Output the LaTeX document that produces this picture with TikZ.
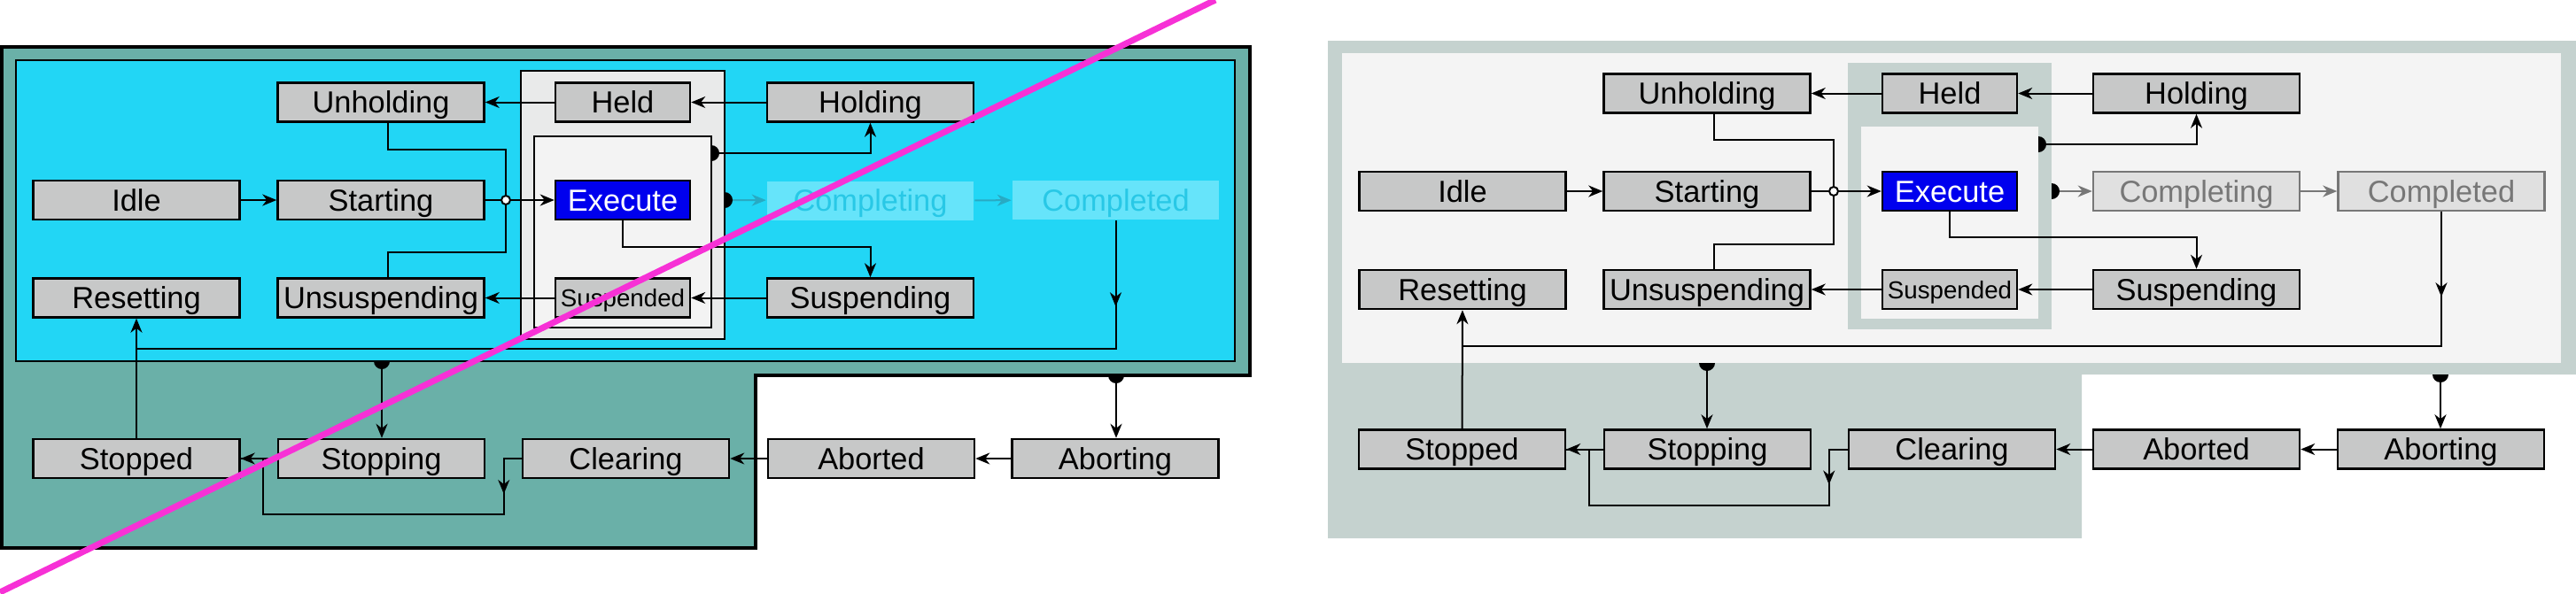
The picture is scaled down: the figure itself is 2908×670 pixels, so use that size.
\documentclass[tikz,border=0pt]{standalone}
\usepackage{fontspec}
\setmainfont{Liberation Sans}
\usetikzlibrary{arrows.meta}

\definecolor{tealbg}{RGB}{106,176,168}
\definecolor{cyanbg}{RGB}{34,214,245}
\definecolor{heldbg}{RGB}{233,234,234}
\definecolor{execbg}{RGB}{243,243,243}
\definecolor{boxgray}{RGB}{199,200,200}
\definecolor{execblue}{RGB}{0,0,238}
\definecolor{fadefill}{RGB}{102,228,250}
\definecolor{fadetext}{RGB}{40,200,230}
\definecolor{fadearrow}{RGB}{40,170,195}
\definecolor{crossout}{RGB}{247,49,214}
\definecolor{greybg}{RGB}{197,210,207}
\definecolor{lightbg}{RGB}{244,244,244}
\definecolor{offfill}{RGB}{224,224,224}
\definecolor{offline}{RGB}{119,119,119}

\tikzset{every picture/.style={line width=2pt}}
\tikzset{
  state/.style={draw, fill=boxgray, line width=2.5pt, minimum width=233pt, minimum height=44pt, inner sep=0pt, text height=30pt, text depth=6pt, font=\fontsize{34.4}{40}\selectfont},
  smallstate/.style={state, minimum width=152pt},
  smalltext/.style={text height=24pt, text depth=4pt, font=\fontsize{27.7}{32}\selectfont},
  tip/.style={-{Stealth[length=16pt,width=13pt,inset=5pt]}},
  junction/.style={circle, draw, fill=white, line width=2pt, minimum size=10pt, inner sep=0pt},
}

\begin{document}
\begin{tikzpicture}[x=1pt,y=1pt,yscale=-1,xscale=1]
		\useasboundingbox (0,0) rectangle (2908,670);
		
		%Left version: backgrounds
		\draw [fill=tealbg, line width=4pt] (2,53) -- (1411,53) -- (1411,424) -- (853,424) -- (853,619) -- (2,619) -- cycle ;
		\draw [fill=cyanbg, line width=2.5pt] (18,68) rectangle (1394,408) ;
		\draw [fill=heldbg, line width=2.5pt] (588,80) rectangle (818,383) ;
		\draw [fill=execbg, line width=2.5pt] (603,154) rectangle (803,370) ;
		
		%Left version: states
		\node [state] (lunholding) at (430,115.5) {Unholding};
		\node [smallstate] (lheld) at (703,115.5) {Held};
		\node [state] (lholding) at (982.5,115.5) {Holding};
		\node [state] (lidle) at (154,226) {Idle};
		\node [state] (lstarting) at (430,226) {Starting};
		\node [smallstate, fill=execblue, text=white] (lexecute) at (703,226) {Execute};
		\node [state, draw=none, fill=fadefill, text=fadetext] (lcompleting) at (982.5,226.5) {Completing};
		\node [state, draw=none, fill=fadefill, text=fadetext] (lcompleted) at (1259.5,226) {Completed};
		\node [state] (lresetting) at (154,336.5) {Resetting};
		\node [state] (lunsuspending) at (430,336.5) {Unsuspending};
		\node [smallstate, smalltext] (lsuspended) at (703,336.5) {Suspended};
		\node [state] (lsuspending) at (982.5,336.5) {Suspending};
		\node [state] (lstopped) at (154,518) {Stopped};
		\node [state] (lstopping) at (430.5,518) {Stopping};
		\node [state] (lclearing) at (706.5,518) {Clearing};
		\node [state] (laborted) at (983.5,518) {Aborted};
		\node [state] (laborting) at (1259,518) {Aborting};
		\node [junction] (ljoin) at (571,226) {};
		\coordinate (lholddot) at (803,173);
		\coordinate (lcompdot) at (818,226);
		\coordinate (lresetline) at (154,394);
		\coordinate (lstopdot) at (431,408);
		\coordinate (labortdot) at (1260,424);
		
		%Left version: transitions
		\draw [tip] (lidle) -- (lstarting);
		\draw (lstarting) -- (ljoin);
		\draw [tip] (ljoin) -- (lexecute);
		\draw ([xshift=8pt]lunholding.south) -- ++(0,30) -| (ljoin);
		\draw ([xshift=8pt]lunsuspending.north) -- ++(0,-28) -| (ljoin);
		\draw [tip] (lholding) -- (lheld);
		\draw [tip] (lheld) -- (lunholding);
		\draw [tip] (lsuspending) -- (lsuspended);
		\draw [tip] (lsuspended) -- (lunsuspending);
		\draw [tip] (lexecute.south) -- ++(0,30) -| (lsuspending.north);
		\draw [tip] (lholddot) -| (lholding.south);
		\draw [tip, fadearrow] (lcompdot) -- (lcompleting);
		\draw [tip, fadearrow] (lcompleting) -- (lcompleted);
		\draw (lcompleted.south) |- (lresetline);
		\draw [tip] (lcompleted.south) -- ++(0,97);
		\draw [tip] (lstopped) -- (lresetting);
		\draw [tip] (lstopdot) -- (lstopdot |- lstopping.north);
		\draw [tip] (labortdot) -- (labortdot |- laborting.north);
		\draw [tip] (laborting) -- (laborted);
		\draw [tip] (laborted) -- (lclearing);
		\draw (lclearing.west) -- ++(-20,0) |- (297,581) |- (lstopped.east);
		\draw [tip] (lclearing.west) -| ++(-20,40);
		\draw [tip] (lstopping) -- (lstopped);
		\fill (lholddot) ++(0,-9) arc (-90:90:9) -- cycle ;
		\fill (lcompdot) ++(0,-9) arc (-90:90:9) -- cycle ;
		\fill (lstopdot) ++(-9,0) arc (180:0:9) -- cycle ;
		\fill (labortdot) ++(-9,0) arc (180:0:9) -- cycle ;
		
		%Cross-out line
		\draw [crossout, line width=7pt] (0,669) -- (1372,0) ;
		
		%Right version: backgrounds
		\fill [greybg] (1499,46) -- (2908,46) -- (2908,423) -- (2350,423) -- (2350,608) -- (1499,608) -- cycle ;
		\fill [lightbg] (1515,60) rectangle (2891,410) ;
		\fill [greybg] (2086,71) rectangle (2316,372) ;
		\fill [lightbg] (2101,143) rectangle (2301,360) ;
		
		%Right version: states
		\node [state] (runholding) at (1927,105.5) {Unholding};
		\node [smallstate] (rheld) at (2201,105.5) {Held};
		\node [state] (rholding) at (2479.5,105.5) {Holding};
		\node [state] (ridle) at (1651,216) {Idle};
		\node [state] (rstarting) at (1927,216) {Starting};
		\node [smallstate, fill=execblue, text=white] (rexecute) at (2201,216) {Execute};
		\node [state, draw=offline, fill=offfill, text=offline] (rcompleting) at (2479.5,216) {Completing};
		\node [state, draw=offline, fill=offfill, text=offline] (rcompleted) at (2756,216) {Completed};
		\node [state] (rresetting) at (1651,327) {Resetting};
		\node [state] (runsuspending) at (1927,327) {Unsuspending};
		\node [smallstate, smalltext] (rsuspended) at (2201,327) {Suspended};
		\node [state] (rsuspending) at (2479.5,327) {Suspending};
		\node [state] (rstopped) at (1650.5,507.5) {Stopped};
		\node [state] (rstopping) at (1927.5,507.5) {Stopping};
		\node [state] (rclearing) at (2203.5,507.5) {Clearing};
		\node [state] (raborted) at (2479.5,507.5) {Aborted};
		\node [state] (raborting) at (2755.5,507.5) {Aborting};
		\node [junction] (rjoin) at (2070,216) {};
		\coordinate (rholddot) at (2301,163);
		\coordinate (rcompdot) at (2316,216);
		\coordinate (rresetline) at (1651,391);
		\coordinate (rstopdot) at (1927,410);
		\coordinate (rabortdot) at (2755,423);
		
		%Right version: transitions
		\draw [tip] (ridle) -- (rstarting);
		\draw (rstarting) -- (rjoin);
		\draw [tip] (rjoin) -- (rexecute);
		\draw ([xshift=8pt]runholding.south) -- ++(0,29) -| (rjoin);
		\draw ([xshift=8pt]runsuspending.north) -- ++(0,-28) -| (rjoin);
		\draw [tip] (rholding) -- (rheld);
		\draw [tip] (rheld) -- (runholding);
		\draw [tip] (rsuspending) -- (rsuspended);
		\draw [tip] (rsuspended) -- (runsuspending);
		\draw [tip] (rexecute.south) -- ++(0,28.5) -| (rsuspending.north);
		\draw [tip] (rholddot) -| (rholding.south);
		\draw [tip, offline] (rcompdot) -- (rcompleting);
		\draw [tip, offline] (rcompleting) -- (rcompleted);
		\draw (rcompleted.south) |- (rresetline);
		\draw [tip] (rcompleted.south) -- ++(0,96);
		\draw [tip] (rstopped) -- (rresetting);
		\draw [tip] (rstopdot) -- (rstopdot |- rstopping.north);
		\draw [tip] (rabortdot) -- (rabortdot |- raborting.north);
		\draw [tip] (raborting) -- (raborted);
		\draw [tip] (raborted) -- (rclearing);
		\draw (rclearing.west) -- ++(-21,0) |- (1794,571) |- (rstopped.east);
		\draw [tip] (rclearing.west) -| ++(-21,40);
		\draw [tip] (rstopping) -- (rstopped);
		\fill (rholddot) ++(0,-9) arc (-90:90:9) -- cycle ;
		\fill (rcompdot) ++(0,-9) arc (-90:90:9) -- cycle ;
		\fill (rstopdot) ++(-9,0) arc (180:0:9) -- cycle ;
		\fill (rabortdot) ++(-9,0) arc (180:0:9) -- cycle ;
		
	\end{tikzpicture}
\end{document}
